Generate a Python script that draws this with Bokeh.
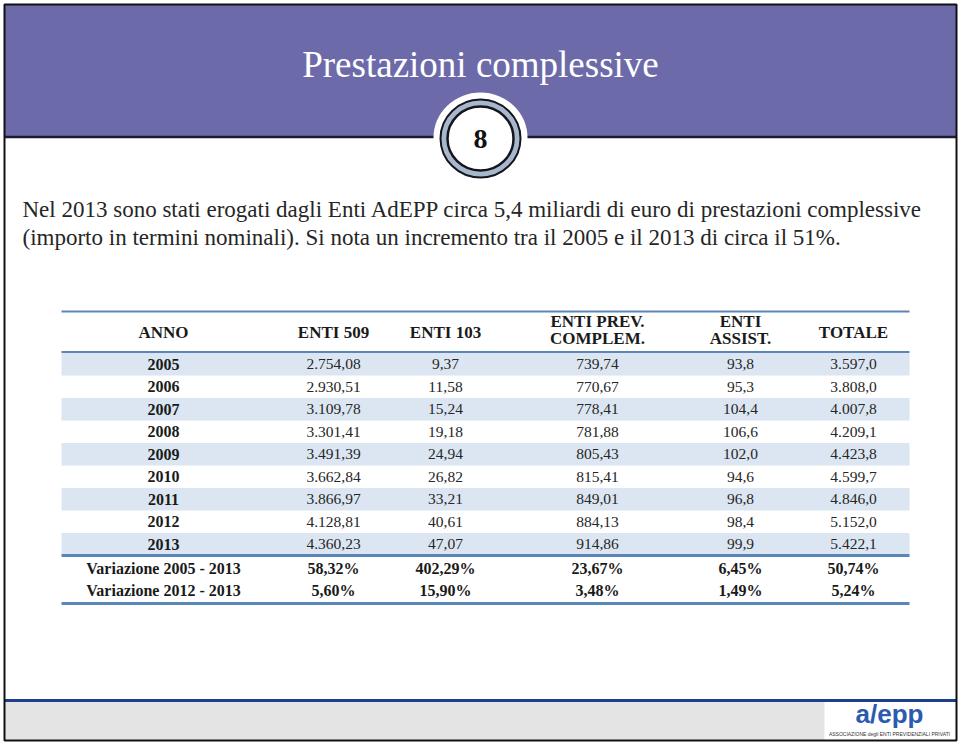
from bokeh.plotting import figure
from bokeh.models import Range1d, ColumnDataSource
from bokeh.core.properties import value
from bokeh.embed import file_html
from bokeh.resources import INLINE

# ---------------- data ----------------
title = "Prestazioni complessive"
badge = "8"
intro_lines = [
    "Nel 2013 sono stati erogati dagli Enti AdEPP circa 5,4 miliardi di euro di prestazioni complessive",
    "(importo in termini nominali). Si nota un incremento tra il 2005 e il 2013 di circa il 51%.",
]
header_lines = [
    ["ANNO"], ["ENTI 509"], ["ENTI 103"], ["ENTI PREV.", "COMPLEM."], ["ENTI", "ASSIST."], ["TOTALE"],
]
anni = ["2005", "2006", "2007", "2008", "2009", "2010", "2011", "2012", "2013"]
enti_509 = [2754.08, 2930.51, 3109.78, 3301.41, 3491.39, 3662.84, 3866.97, 4128.81, 4360.23]
enti_103 = [9.37, 11.58, 15.24, 19.18, 24.94, 26.82, 33.21, 40.61, 47.07]
enti_prev = [739.74, 770.67, 778.41, 781.88, 805.43, 815.41, 849.01, 884.13, 914.86]
enti_assist = [93.8, 95.3, 104.4, 106.6, 102.0, 94.6, 96.8, 98.4, 99.9]
totale = [3597.0, 3808.0, 4007.8, 4209.1, 4423.8, 4599.7, 4846.0, 5152.0, 5422.1]
var_labels = ["Variazione 2005 - 2013", "Variazione 2012 - 2013"]
var_2005_2013 = [58.32, 402.29, 23.67, 6.45, 50.74]
var_2012_2013 = [5.60, 15.90, 3.48, 1.49, 5.24]
logo_main = "a/epp"
logo_sub = "ASSOCIAZIONE degli ENTI PREVIDENZIALI PRIVATI"


def it(v, d):
    s = f"{v:,.{d}f}"
    return s.replace(",", "X").replace(".", ",").replace("X", ".")


# ---------------- layout ----------------
SERIF = value("Liberation Serif")
W, H = 960, 743
p = figure(width=W, height=H, x_range=Range1d(0, W), y_range=Range1d(H, 0),
           output_backend="svg", toolbar_location=None, min_border=0,
           x_axis_location=None, y_axis_location=None)
p.grid.visible = False
p.outline_line_color = None
p.background_fill_color = "white"
p.border_fill_color = "white"

# header band
p.quad(left=[4], right=[956], top=[4], bottom=[136], fill_color="#6D6AAA", line_color=None)
p.line(x=[4, 956], y=[136.5, 136.5], line_color="#1B1A33", line_width=2.5)
p.text(x=[480], y=[64], text=[title], text_font=SERIF, text_font_size="37px",
       text_color="white", text_align="center", text_baseline="middle")

# badge
p.ellipse(x=[480], y=[137], width=94, height=90, fill_color="white", line_color=None)
p.ellipse(x=[480], y=[138], width=80, height=78, fill_color="#A7B8CC", line_color="#15151F", line_width=2)
p.ellipse(x=[480], y=[138], width=66, height=64, fill_color="white", line_color="#15151F", line_width=2.5)
p.text(x=[480], y=[138], text=[badge], text_font=SERIF, text_font_size="28px", text_font_style="bold",
       text_color="#111111", text_align="center", text_baseline="middle")

# intro paragraph
p.text(x=[22, 22], y=[209, 237], text=intro_lines, text_font=SERIF, text_font_size="23px",
       text_color="#262626", text_align="left", text_baseline="middle")

# ---------------- table ----------------
TL, TR = 61, 909
col_x = [163, 333, 445, 597, 740, 853]
row_top0, row_h = 352.5, 22.5
n = len(anni)
shade_top = [row_top0 + i * row_h for i in range(n) if i % 2 == 0]
p.quad(left=TL, right=TR, top=shade_top, bottom=[t + row_h for t in shade_top],
       fill_color="#DCE6F2", line_color=None)

line_col = "#5A86B8"
for yy, lw in [(311, 2.2), (351.5, 2.2), (row_top0 + n * row_h, 2.8), (603, 2.8)]:
    p.line(x=[TL, TR], y=[yy, yy], line_color=line_col, line_width=lw)

# header texts
hx, hy, ht = [], [], []
for cx, lines in zip(col_x, header_lines):
    if len(lines) == 1:
        hx.append(cx); hy.append(332); ht.append(lines[0])
    else:
        hx += [cx, cx]; hy += [321, 338]; ht += lines
p.text(x=hx, y=hy, text=ht, text_font=SERIF, text_font_size="17px", text_font_style="bold",
       text_color="#1A1A1A", text_align="center", text_baseline="middle")

# body rows
ry = [row_top0 + row_h * i + row_h / 2 for i in range(n)]
p.text(x=[col_x[0]] * n, y=ry, text=anni, text_font=SERIF, text_font_size="16px", text_font_style="bold",
       text_color="#1A1A1A", text_align="center", text_baseline="middle")
cols = [(enti_509, 2), (enti_103, 2), (enti_prev, 2), (enti_assist, 1), (totale, 1)]
bx, by, bt = [], [], []
for (vals, d), cx in zip(cols, col_x[1:]):
    for yv, v in zip(ry, vals):
        bx.append(cx); by.append(yv); bt.append(it(v, d))
src = ColumnDataSource(dict(x=bx, y=by, t=bt))
p.text(x="x", y="y", text="t", source=src, text_font=SERIF, text_font_size="15.5px",
       text_color="#262626", text_align="center", text_baseline="middle")

# variation rows
vy = [568, 590]
vx, vyy, vt = [], [], []
for yv, lab, vals in zip(vy, var_labels, [var_2005_2013, var_2012_2013]):
    vx.append(col_x[0]); vyy.append(yv); vt.append(lab)
    for cx, v in zip(col_x[1:], vals):
        vx.append(cx); vyy.append(yv); vt.append(it(v, 2) + "%")
p.text(x=vx, y=vyy, text=vt, text_font=SERIF, text_font_size="16px", text_font_style="bold",
       text_color="#1A1A1A", text_align="center", text_baseline="middle")

# ---------------- footer ----------------
p.quad(left=[4], right=[956], top=[701.5], bottom=[739.5], fill_color="#E4E4E4", line_color=None)
p.quad(left=[824], right=[956], top=[701.5], bottom=[739.5], fill_color="white", line_color=None)
p.line(x=[4, 956], y=[700, 700], line_color="#1F3D8F", line_width=3)
p.text(x=[889], y=[713], text=[logo_main], text_font=value("Liberation Sans"), text_font_size="26px",
       text_font_style="bold", text_color="#2A5BB0", text_align="center", text_baseline="middle")
p.text(x=[889], y=[733], text=[logo_sub], text_font=value("Liberation Sans"), text_font_size="5px",
       text_color="#333333", text_align="center", text_baseline="middle")

# frame
p.quad(left=[4], right=[956], top=[4], bottom=[740], fill_color=None, line_color="#111111", line_width=2)

open("out.html", "w").write(file_html(p, INLINE))
